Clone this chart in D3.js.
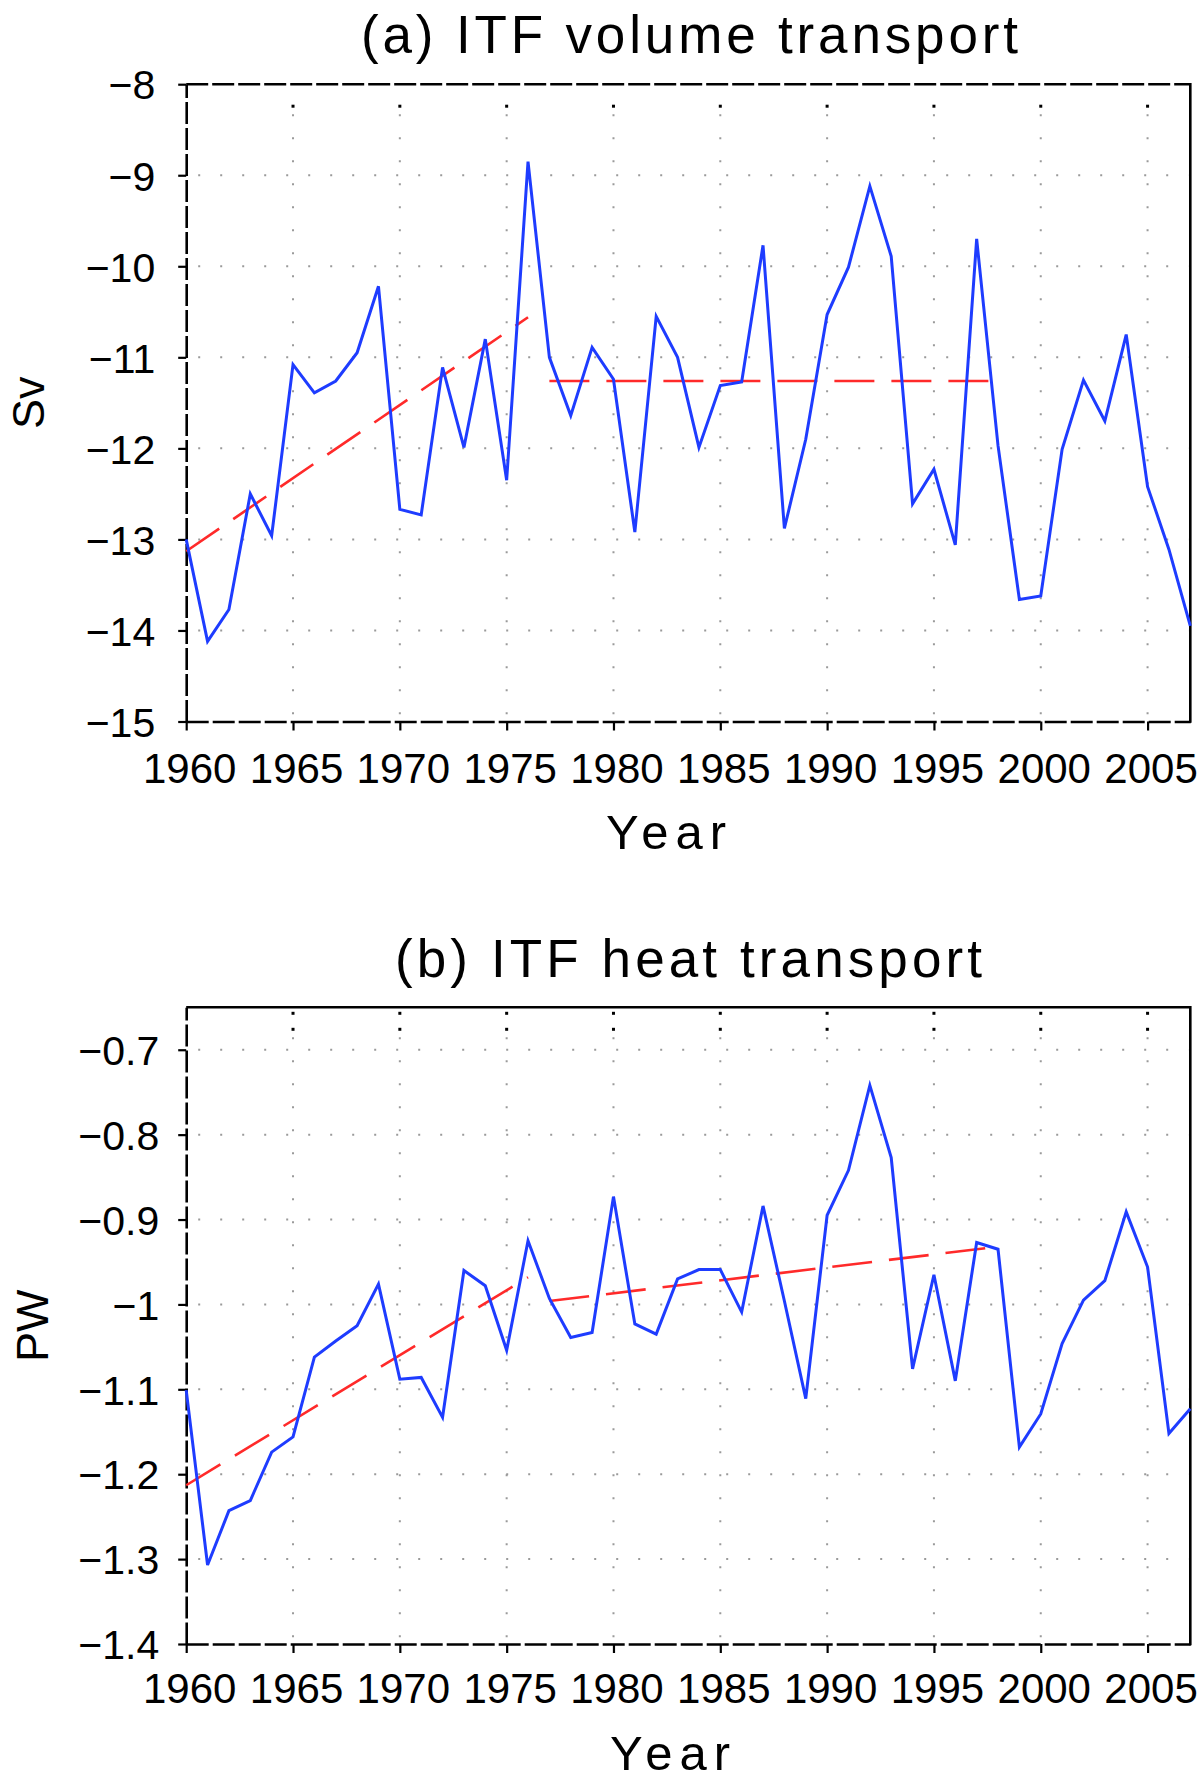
<!DOCTYPE html>
<html>
<head>
<meta charset="utf-8">
<script src="https://cdn.jsdelivr.net/npm/d3@7"></script>
<style>
  body { margin: 0; background: #fff; }
  svg { display: block; }
</style>
</head>
<body>
<svg id="chart" width="1200" height="1780"></svg>
<script>
// ---------------- data ----------------
const years = [1960,1961,1962,1963,1964,1965,1966,1967,1968,1969,
               1970,1971,1972,1973,1974,1975,1976,1977,1978,1979,
               1980,1981,1982,1983,1984,1985,1986,1987,1988,1989,
               1990,1991,1992,1993,1994,1995,1996,1997,1998,1999,
               2000,2001,2002,2003,2004,2005,2006,2007];

const volumeTransport = [-13.00,-14.12,-13.77,-12.50,-12.96,-11.08,-11.39,-11.26,-10.95,-10.22,
                         -12.67,-12.73,-11.11,-11.99,-10.80,-12.35,-8.85,-11.00,-11.64,-10.89,
                         -11.24,-12.92,-10.55,-11.00,-11.99,-11.31,-11.27,-9.77,-12.88,-11.90,
                         -10.53,-10.01,-9.12,-9.89,-12.61,-12.23,-13.06,-9.70,-11.97,-13.66,
                         -13.62,-12.01,-11.25,-11.70,-10.75,-12.42,-13.11,-13.95];

const heatTransport = [-1.101,-1.307,-1.243,-1.231,-1.174,-1.156,-1.062,-1.043,-1.025,-0.976,
                       -1.088,-1.086,-1.133,-0.960,-0.978,-1.054,-0.925,-0.993,-1.039,-1.033,
                       -0.873,-1.023,-1.035,-0.970,-0.959,-0.959,-1.009,-0.884,-0.996,-1.111,
                       -0.895,-0.842,-0.742,-0.827,-1.076,-0.965,-1.090,-0.927,-0.935,-1.168,
                       -1.129,-1.046,-0.995,-0.972,-0.891,-0.956,-1.152,-1.123];

// linear trends: [startYear, endYear] and [startValue, endValue]
const volumeTrendYears = [[1960, 1976], [1977, 1998]];
const volumeTrendValues = [[-13.13, -10.56], [-11.26, -11.26]];
const heatTrendYears = [[1960, 1976], [1977, 1998]];
const heatTrendValues = [[-1.213, -0.968], [-0.996, -0.932]];

const xTicks = [1960,1965,1970,1975,1980,1985,1990,1995,2000,2005];
const xTickLabels = ["1960","1965","1970","1975","1980","1985","1990","1995","2000","2005"];

const volumeTicks = [-15,-14,-13,-12,-11,-10,-9,-8];
const volumeTickLabels = ["\u221215","\u221214","\u221213","\u221212","\u221211","\u221210","\u22129","\u22128"];
const heatTicks = [-1.4,-1.3,-1.2,-1.1,-1.0,-0.9,-0.8,-0.7];
const heatTickLabels = ["\u22121.4","\u22121.3","\u22121.2","\u22121.1","\u22121","\u22120.9","\u22120.8","\u22120.7"];

const titles = ["(a) ITF volume transport", "(b) ITF heat transport"];
const yLabels = ["Sv", "PW"];
const xLabel = "Year";

// ---------------- drawing ----------------
const FONT = "'Liberation Sans', Arial, sans-serif";
const BLUE = "#1e3cff";
const RED = "#ff2a2a";
const svg = d3.select("#chart");

const x = d3.scaleLinear().domain([1960, 2007]).range([186.2, 1190.3]);

function panel(cfg) {
  const g = svg.append("g");
  const y = d3.scaleLinear().domain(cfg.domain).range(cfg.range);
  const yBottom = cfg.range[0], yTop = cfg.range[1];
  const xL = x(1960), xR = x(2007);

  // dotted grid
  g.selectAll(null).data(xTicks.filter(t => t > 1960)).join("line")
    .attr("x1", d => x(d)).attr("x2", d => x(d))
    .attr("y1", yTop + 30).attr("y2", yBottom - 2)
    .attr("stroke", "#9a9a9a").attr("stroke-width", 2)
    .attr("stroke-dasharray", "2,21");
  g.selectAll(null).data(cfg.ticks.filter(t => t > cfg.domain[0] + 1e-9 && t < cfg.domain[1] - 1e-9)).join("line")
    .attr("x1", xL + 12).attr("x2", xR - 2)
    .attr("y1", d => y(d)).attr("y2", d => y(d))
    .attr("stroke", "#9a9a9a").attr("stroke-width", 2)
    .attr("stroke-dasharray", "2,20");
  // black dots at top of vertical grid lines
  cfg.topDots.forEach(off => {
    g.selectAll(null).data(xTicks.filter(t => t > 1960)).join("rect")
      .attr("x", d => x(d) - 1.5).attr("y", yTop + off - 1.5)
      .attr("width", 3).attr("height", 3).attr("fill", "#000");
  });

  // x axis
  const ax = g.append("g").attr("transform", `translate(0,${yBottom})`)
    .call(d3.axisBottom(x).tickValues(xTicks).tickFormat((d, i) => xTickLabels[i])
      .tickSize(9).tickSizeOuter(0));
  ax.attr("font-size", null).attr("font-family", null);
  ax.select(".domain").attr("stroke", "#000").attr("stroke-width", 2.6).attr("stroke-dasharray", "22,4");
  ax.selectAll(".tick line").attr("stroke", "#000").attr("stroke-width", 2.2);
  ax.selectAll(".tick text").attr("y", cfg.xLabelOffset).attr("dy", 0).attr("x", 3)
    .attr("font-size", 42).attr("font-family", FONT).attr("fill", "#000");

  // y axis
  const ay = g.append("g").attr("transform", `translate(${xL},0)`)
    .call(d3.axisLeft(y).tickValues(cfg.ticks).tickFormat((d, i) => cfg.tickLabels[i])
      .tickSize(8).tickSizeOuter(0));
  ay.attr("font-size", null).attr("font-family", null);
  ay.select(".domain").attr("stroke", "#000").attr("stroke-width", 2.6).attr("stroke-dasharray", "22,4");
  ay.selectAll(".tick line").attr("stroke", "#000").attr("stroke-width", 2.2);
  ay.selectAll(".tick text").attr("x", cfg.yLabelX).attr("dy", "0.36em")
    .attr("font-size", 41).attr("font-family", FONT).attr("fill", "#000");

  // top and right borders
  g.append("line").attr("x1", xL).attr("x2", xR).attr("y1", yTop).attr("y2", yTop)
    .attr("stroke", "#000").attr("stroke-width", 2.6)
    .attr("stroke-dasharray", cfg.topDashed ? "22,4" : null);
  g.append("line").attr("x1", xR).attr("x2", xR).attr("y1", yTop - 1.3).attr("y2", yBottom + 1.3)
    .attr("stroke", "#000").attr("stroke-width", 2.6);

  // trend lines
  cfg.trendYears.forEach((yrs, k) => {
    const pts = yrs.map((yr, j) => [yr, cfg.trendValues[k][j]]);
    g.append("path").datum(pts)
      .attr("d", d3.line().x(d => x(d[0])).y(d => y(d[1])))
      .attr("fill", "none").attr("stroke", RED).attr("stroke-width", 2.6)
      .attr("stroke-dasharray", "40,17");
  });

  // data line
  const pts = years.map((yr, i) => [yr, cfg.values[i]]);
  g.append("path").datum(pts)
    .attr("d", d3.line().x(d => x(d[0])).y(d => y(d[1])))
    .attr("fill", "none").attr("stroke", BLUE).attr("stroke-width", 3)
    .attr("stroke-linejoin", "miter");

  // title
  g.append("text").attr("x", cfg.titleX).attr("y", cfg.titleY)
    .attr("font-family", FONT).attr("font-size", 53).attr("fill", "#000")
    .attr("textLength", cfg.titleLen).attr("lengthAdjust", "spacing")
    .text(cfg.title);
  // x label
  g.append("text").attr("x", cfg.xLabX).attr("y", cfg.xLabY)
    .attr("font-family", FONT).attr("font-size", 49).attr("fill", "#000")
    .attr("textLength", 120).attr("lengthAdjust", "spacing")
    .text(xLabel);
  // y label
  g.append("text").attr("transform", `translate(${cfg.yLabX},${(yTop + yBottom) / 2}) rotate(-90)`)
    .attr("text-anchor", "middle")
    .attr("font-family", FONT).attr("font-size", 45).attr("fill", "#000")
    .text(cfg.yLabel);
}

panel({
  domain: [-15, -8], range: [721.5, 84.2],
  ticks: volumeTicks, tickLabels: volumeTickLabels,
  values: volumeTransport, trendYears: volumeTrendYears, trendValues: volumeTrendValues,
  topDashed: true, topDots: [22],
  xLabelOffset: 61, yLabelX: -31,
  title: titles[0], titleX: 361, titleY: 53, titleLen: 657,
  xLabX: 606, xLabY: 849, yLabel: yLabels[0], yLabX: 44
});

panel({
  domain: [-1.4, -0.65], range: [1644, 1007.3],
  ticks: heatTicks, tickLabels: heatTickLabels,
  values: heatTransport, trendYears: heatTrendYears, trendValues: heatTrendValues,
  topDashed: false, topDots: [6, 22],
  xLabelOffset: 59, yLabelX: -27,
  title: titles[1], titleX: 395, titleY: 977, titleLen: 587,
  xLabX: 610, xLabY: 1770, yLabel: yLabels[1], yLabX: 48
});
</script>
</body>
</html>
